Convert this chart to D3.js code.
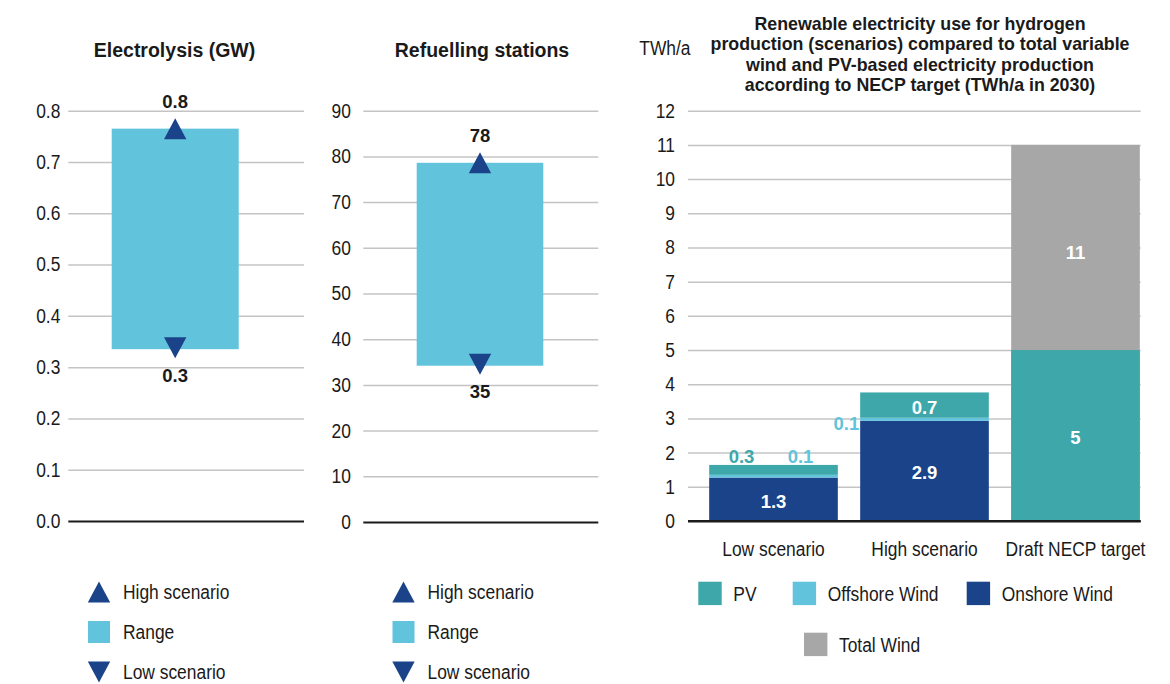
<!DOCTYPE html>
<html>
<head>
<meta charset="utf-8">
<script src="https://cdn.jsdelivr.net/npm/d3@7"></script>
<style>
body { margin: 0; background: #fff; }
svg { display: block; }
</style>
</head>
<body>
<svg id="chart" width="1170" height="684"></svg>
<script>
// left panels: range between low and high scenario
var rangeTitles = ['Electrolysis (GW)', 'Refuelling stations'];
var rangeLow = [0.335, 34.2];
var rangeHigh = [0.765, 78.6];
var lowLabels = ['0.3', '35'];
var highLabels = ['0.8', '78'];
var elecTicks = [0, 0.1, 0.2, 0.3, 0.4, 0.5, 0.6, 0.7, 0.8];
var stationTicks = [0, 10, 20, 30, 40, 50, 60, 70, 80, 90];
var rangeLegend = ['High scenario', 'Range', 'Low scenario'];

// right panel: TWh/a in 2030
var titleLines = [
	'Renewable electricity use for hydrogen',
	'production (scenarios) compared to total variable',
	'wind and PV-based electricity production',
	'according to NECP target (TWh/a in 2030)'
];
var categories = ['Low scenario', 'High scenario', 'Draft NECP target'];
var onshore = [1.27, 2.93, 0];
var offshore = [0.08, 0.09, 0];
var pv = [0.29, 0.74, 5];
var totalWind = [0, 0, 11];
var twhTicks = [0, 1, 2, 3, 4, 5, 6, 7, 8, 9, 10, 11, 12];
var barLegend = ['PV', 'Offshore Wind', 'Onshore Wind', 'Total Wind'];

var DARK = '#1b4389', LIGHT = '#62c3dc', TEAL = '#3ea7aa', GREY = '#a7a7a7';
var GRID = '#c4c4c4', INK = '#1a1a1a';
var BOLD = '"Liberation Sans", Arial, sans-serif';
var REG = '"Liberation Sans", Arial, sans-serif';
var REG_SIZE = 20, SQUEEZE = 0.87;   // no condensed face installed, so narrow it by hand

var svg = d3.select('#chart');

// regular text, squeezed sideways around its own x
function regText(parent, x, y, txt, anchor) {
	return parent.append('text')
		.attr('transform', 'translate(' + x + ',' + y + ') scale(' + SQUEEZE + ',1)')
		.attr('text-anchor', anchor || 'start')
		.attr('font-family', REG).attr('font-size', REG_SIZE)
		.attr('fill', INK).text(txt);
}

function tri(up) {
	var w = 22.4, h = 21, p = d3.path();
	if (up) { p.moveTo(0, -h / 2); p.lineTo(w / 2, h / 2); p.lineTo(-w / 2, h / 2); }
	else { p.moveTo(0, h / 2); p.lineTo(w / 2, -h / 2); p.lineTo(-w / 2, -h / 2); }
	p.closePath();
	return p.toString();
}

function styleAxis(g, pad) {
	g.attr('font-family', null).attr('font-size', null);
	g.select('.domain').remove();
	g.selectAll('.tick line')
		.attr('stroke', function(d) { return d === 0 ? INK : GRID; })
		.attr('stroke-width', function(d) { return d === 0 ? 2 : 1.5; });
	g.selectAll('.tick text')
		.attr('fill', INK)
		.attr('font-family', REG)
		.attr('font-size', REG_SIZE)
		.attr('x', -pad / SQUEEZE)
		.attr('transform', 'scale(' + SQUEEZE + ',1)');
}

/* Range panels */
var panels = [
	{ ticks: elecTicks, fmt: '.1f', x0: 68.3, x1: 304, bar: [111.7, 238.7], y0: 521, y1: 110.7, pad: 8, titleX: 174.5, legendX: 99 },
	{ ticks: stationTicks, fmt: 'd', x0: 363.3, x1: 598.3, bar: [416.7, 543.3], y0: 522, y1: 110.7, pad: 12.5, titleX: 482, legendX: 403.5 }
];

panels.forEach(function(p, i) {
	var g = svg.append('g');
	var y = d3.scaleLinear().domain([0, p.ticks[p.ticks.length - 1]]).range([p.y0, p.y1]);
	var x = d3.scaleBand().domain([rangeTitles[i]]).range(p.bar);
	var cx = x(rangeTitles[i]) + x.bandwidth() / 2;

	g.append('text')
		.attr('x', p.titleX).attr('y', 57)
		.attr('text-anchor', 'middle')
		.attr('font-family', BOLD).attr('font-weight', 'bold').attr('font-size', 19.5)
		.attr('fill', INK)
		.text(rangeTitles[i]);

	g.append('g')
		.attr('transform', 'translate(' + p.x0 + ',0)')
		.call(d3.axisLeft(y).tickValues(p.ticks).tickSize(-(p.x1 - p.x0)).tickPadding(p.pad).tickFormat(d3.format(p.fmt)))
		.call(styleAxis, p.pad);

	g.append('rect')
		.attr('x', x(rangeTitles[i])).attr('width', x.bandwidth())
		.attr('y', y(rangeHigh[i])).attr('height', y(rangeLow[i]) - y(rangeHigh[i]))
		.attr('fill', LIGHT);

	g.append('path').attr('d', tri(true)).attr('fill', DARK)
		.attr('transform', 'translate(' + cx + ',' + y(rangeHigh[i]) + ')');
	g.append('path').attr('d', tri(false)).attr('fill', DARK)
		.attr('transform', 'translate(' + cx + ',' + (y(rangeLow[i]) - 1.5) + ')');

	g.append('text')
		.attr('x', cx).attr('y', y(rangeHigh[i]) - 21)
		.attr('text-anchor', 'middle')
		.attr('font-family', BOLD).attr('font-weight', 'bold').attr('font-size', 18.5)
		.attr('fill', INK).text(highLabels[i]);
	g.append('text')
		.attr('x', cx).attr('y', y(rangeLow[i]) + 32.5)
		.attr('text-anchor', 'middle')
		.attr('font-family', BOLD).attr('font-weight', 'bold').attr('font-size', 18.5)
		.attr('fill', INK).text(lowLabels[i]);

	// legend
	rangeLegend.forEach(function(name, k) {
		var ly = 592 + k * 40;
		if (k === 1) {
			g.append('rect').attr('x', p.legendX - 11).attr('y', ly - 11)
				.attr('width', 22).attr('height', 22).attr('fill', LIGHT);
		} else {
			g.append('path').attr('d', tri(k === 0)).attr('fill', DARK)
				.attr('transform', 'translate(' + p.legendX + ',' + ly + ')');
		}
		regText(g, p.legendX + 24, ly + 7, name);
	});
});

/* Stacked bar panel */
var gx0 = 688, gx1 = 1140.7;
var y3 = d3.scaleLinear().domain([0, 12]).range([521, 110.7]);
var x3 = d3.scaleBand().domain(categories).range([698, 1151]).paddingInner(0.148).paddingOuter(0.074);
var g3 = svg.append('g');

regText(g3, 639.3, 55, 'TWh/a');

g3.append('text')
	.attr('text-anchor', 'middle')
	.attr('font-family', BOLD).attr('font-weight', 'bold').attr('font-size', 17.8)
	.attr('fill', INK)
	.selectAll('tspan').data(titleLines).enter().append('tspan')
	.attr('x', 920).attr('y', function(d, k) { return 29.5 + k * 20.6; })
	.text(function(d) { return d; });

g3.append('g')
	.attr('transform', 'translate(' + gx0 + ',0)')
	.call(d3.axisLeft(y3).tickValues(twhTicks).tickSize(-(gx1 - gx0)).tickPadding(13).tickFormat(d3.format('d')))
	.call(styleAxis, 13);

var rows = categories.map(function(c, i) {
	return { cat: c, onshore: onshore[i], offshore: offshore[i], pv: pv[i], total: totalWind[i] };
});
var keys = ['onshore', 'offshore', 'pv'];
var colors = { onshore: DARK, offshore: LIGHT, pv: TEAL };
var series = d3.stack().keys(keys)(rows);

// total wind sits behind the stack
g3.selectAll('rect.total').data(rows.filter(function(r) { return r.total > 0; }))
	.enter().append('rect').attr('class', 'total')
	.attr('x', function(r) { return x3(r.cat); }).attr('width', x3.bandwidth())
	.attr('y', function(r) { return y3(r.total); })
	.attr('height', function(r) { return y3(0) - y3(r.total); })
	.attr('fill', GREY);

series.forEach(function(s) {
	g3.selectAll('rect.' + s.key).data(s.filter(function(d) { return d[1] > d[0]; }))
		.enter().append('rect').attr('class', s.key)
		.attr('x', function(d) { return x3(d.data.cat); }).attr('width', x3.bandwidth())
		.attr('y', function(d) { return y3(d[1]); })
		.attr('height', function(d) { return y3(d[0]) - y3(d[1]); })
		.attr('fill', colors[s.key]);
});

g3.append('line')
	.attr('x1', gx0).attr('x2', gx1).attr('y1', y3(0)).attr('y2', y3(0))
	.attr('stroke', INK).attr('stroke-width', 2);

// value labels
var fmt1 = d3.format('.1f');
function valueLabel(x, y, txt, color, anchor) {
	g3.append('text')
		.attr('x', x).attr('y', y)
		.attr('text-anchor', anchor || 'middle')
		.attr('font-family', BOLD).attr('font-weight', 'bold').attr('font-size', 18.5)
		.attr('fill', color).text(txt);
}
function num(v) { return v % 1 === 0 ? d3.format('d')(v) : fmt1(v); }

rows.forEach(function(r, i) {
	var left = x3(r.cat), cx = left + x3.bandwidth() / 2;
	var seg = {};
	series.forEach(function(s) { seg[s.key] = s[i]; });
	var top = seg.pv[1];
	var small = function(k) { return r[k] > 0 && r[k] < 0.4; };

	keys.forEach(function(k) {
		if (r[k] >= 0.4) {
			valueLabel(cx, (y3(seg[k][0]) + y3(seg[k][1])) / 2 + 8.5, num(r[k]), '#fff');
		}
	});
	if (small('pv') && small('offshore')) {
		valueLabel(cx - 32, y3(top) - 1.5, num(r.pv), TEAL);
		valueLabel(cx + 27, y3(top) - 1.5, num(r.offshore), LIGHT);
	} else if (small('offshore')) {
		valueLabel(left - 1, (y3(seg.offshore[0]) + y3(seg.offshore[1])) / 2 + 11, num(r.offshore), LIGHT, 'end');
	}
	if (r.total > 0) {
		valueLabel(cx, (y3(top) + y3(r.total)) / 2 + 12, num(r.total), '#fff');
	}
});

// category labels
categories.forEach(function(c) {
	regText(g3, x3(c) + x3.bandwidth() / 2, 555.5, c, 'middle');
});

// legend
var legendPos = [[698.3, 581.7], [792.7, 581.7], [966.7, 581.7], [804, 632.7]];
var legendColors = [TEAL, LIGHT, DARK, GREY];
barLegend.forEach(function(name, k) {
	var pos = legendPos[k];
	g3.append('rect').attr('x', pos[0]).attr('y', pos[1])
		.attr('width', 23.4).attr('height', 23.4).attr('fill', legendColors[k]);
	regText(g3, pos[0] + 35, pos[1] + 19, name);
});
</script>
</body>
</html>
